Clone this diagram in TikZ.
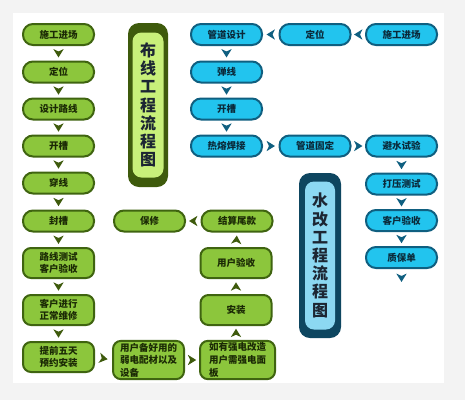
\documentclass[tikz,border=0pt]{standalone}
\usepackage{fontspec}
\newfontfamily\cjk{Noto Sans CJK SC}
\definecolor{gfill}{HTML}{8CC63C}
\definecolor{gedge}{HTML}{3F6410}
\definecolor{gtext}{HTML}{1B2A05}
\definecolor{gchev}{HTML}{3E5A0C}
\definecolor{gtout}{HTML}{3E5A0C}
\definecolor{gtin}{HTML}{C8F07A}
\definecolor{bfill}{HTML}{22C4EE}
\definecolor{bedge}{HTML}{0F5F80}
\definecolor{btext}{HTML}{0A2A3A}
\definecolor{bchev}{HTML}{0F5F80}
\definecolor{btout}{HTML}{0E4660}
\definecolor{btin}{HTML}{8CD8F2}
\definecolor{ttext}{HTML}{1C2633}
\definecolor{frame}{HTML}{F3F3F3}
\begin{document}
\begin{tikzpicture}[x=1pt,y=-1pt,
  boxbase/.style={line width=2pt, rounded corners=10pt, minimum width=71pt,
    minimum height=21pt, inner sep=2pt, align=center,
    font=\cjk\bfseries\fontsize{9.5}{12.6}\selectfont},
  gbox/.style={boxbase, draw=gedge, fill=gfill, text=gtext},
  bbox/.style={boxbase, draw=bedge, fill=bfill, text=btext},
  tall/.style={rounded corners=8pt, minimum height=30pt},
  taller/.style={rounded corners=8pt, minimum height=38pt, align=left},
  titletext/.style={align=center, text=ttext, font=\cjk\bfseries\fontsize{16}{18.2}\selectfont},
  chevat/.style={midway, sloped, allow upside down},
  pics/chev/.style={code={\fill[#1] (-4.2,-5.2) -- (4.2,0) -- (-4.2,5.2) -- (-1.8,0) -- cycle;}},
]
\useasboundingbox (0,0) rectangle (465,400);
\fill[frame] (0,0) rectangle (465,400);
\fill[white] (13,13) rectangle (444,383);

% ---------- green (wiring) ----------
\node[gbox] (g1) at (58.5,34.5) {施工进场};
\node[gbox] (g2) at (58.5,72) {定位};
\node[gbox] (g3) at (58.5,109) {设计路线};
\node[gbox] (g4) at (58.5,146) {开槽};
\node[gbox] (g5) at (58.5,183) {穿线};
\node[gbox] (g6) at (58.5,221) {封槽};
\node[gbox,tall] (g7) at (58.5,263) {路线测试\\客户验收};
\node[gbox,tall] (g8) at (58.5,310) {客户进行\\正常维修};
\node[gbox,tall] (g9) at (58.5,357) {提前五天\\预约安装};
\node[gbox,taller] (g10) at (148.5,360) {用户备好用的\\弱电配材以及\\设备};
\node[gbox,taller,minimum width=75pt] (g11) at (237.5,360) {如有强电改造\\用户需强电面\\板};
\node[gbox,tall] (g12) at (236,310) {安装};
\node[gbox,tall] (g13) at (236,263) {用户验收};
\node[gbox] (g14) at (237,221) {结算尾款};
\node[gbox] (g15) at (149.5,221) {保修};

\foreach \a/\b in {g1/g2,g2/g3,g3/g4,g4/g5,g5/g6,g6/g7,g7/g8,g8/g9}
  \path (\a.south) -- pic[chevat]{chev=gchev} (\b.north);
\path (g9.east) -- pic[chevat]{chev=gchev} (g10.west);
\path (g10.east) -- pic[chevat]{chev=gchev} (g11.west);
\path (g11.north -| g12) -- pic[chevat]{chev=gchev} (g12.south);
\path (g12.north) -- pic[chevat]{chev=gchev} (g13.south);
\path (g13.north) -- pic[chevat]{chev=gchev} (g14.south);
\path (g14.west) -- pic[chevat]{chev=gchev} (g15.east);

% green title
\node[fill=gtout, rounded corners=11pt, minimum width=40pt, minimum height=164pt] (gto) at (148,105) {};
\node[fill=gtin, rounded corners=9pt, minimum width=31pt, minimum height=145pt, titletext] (gti) at (gto.center) {布\\线\\工\\程\\流\\程\\图};

% ---------- blue (plumbing) ----------
\node[bbox] (b1) at (401.5,34.5) {施工进场};
\node[bbox] (b2) at (315,34.5) {定位};
\node[bbox] (b3) at (226.5,34.5) {管道设计};
\node[bbox] (b4) at (226.5,72) {弹线};
\node[bbox] (b5) at (226.5,109) {开槽};
\node[bbox] (b6) at (226.5,146) {热熔焊接};
\node[bbox] (b7) at (315,146) {管道固定};
\node[bbox] (b8) at (401.5,146) {避水试验};
\node[bbox] (b9) at (401.5,184) {打压测试};
\node[bbox] (b10) at (401.5,220.5) {客户验收};
\node[bbox] (b11) at (401.5,257.5) {质保单};
\coordinate (bend) at (401.5,286.5);

\path (b1.west) -- pic[chevat]{chev=bchev} (b2.east);
\path (b2.west) -- pic[chevat]{chev=bchev} (b3.east);
\path (b3.south) -- pic[chevat]{chev=bchev} (b4.north);
\path (b4.south) -- pic[chevat]{chev=bchev} (b5.north);
\path (b5.south) -- pic[chevat]{chev=bchev} (b6.north);
\path (b6.east) -- pic[chevat]{chev=bchev} (b7.west);
\path (b7.east) -- pic[chevat]{chev=bchev} (b8.west);
\path (b8.south) -- pic[chevat]{chev=bchev} (b9.north);
\path (b9.south) -- pic[chevat]{chev=bchev} (b10.north);
\path (b10.south) -- pic[chevat]{chev=bchev} (b11.north);
\path (b11.south) -- pic[chevat]{chev=bchev} (bend);

% blue title
\node[fill=btout, rounded corners=11pt, minimum width=42pt, minimum height=165pt] (bto) at (320,255.5) {};
\node[fill=btin, rounded corners=9pt, minimum width=30pt, minimum height=148pt, titletext] (bti) at (bto.center) {水\\改\\工\\程\\流\\程\\图};
\end{tikzpicture}
\end{document}
